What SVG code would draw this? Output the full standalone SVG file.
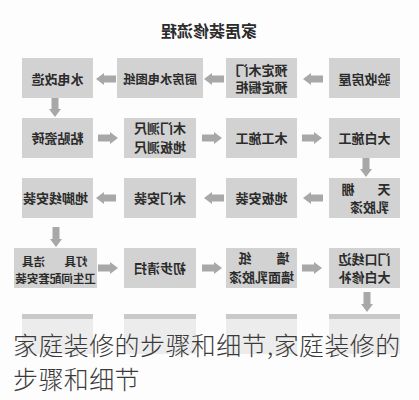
<svg xmlns="http://www.w3.org/2000/svg" width="419" height="400" viewBox="0 0 419 400">
<defs>
<style>
.bx{fill:#d2d2d2}
.fb{fill:#ececec}
.fbt{fill:#c9c9c9}
.t{font-family:"Noto Sans CJK SC","Noto Sans CJK TC",sans-serif;font-weight:bold;font-size:13px;fill:#2b2b2b;text-anchor:middle}
.ts{font-size:11.5px}
.ttl{font-family:"Noto Sans CJK SC",sans-serif;font-weight:bold;font-size:16px;fill:#2b2b2b;text-anchor:middle}
.cap{font-family:"Noto Sans CJK SC","Noto Sans CJK TC",sans-serif;font-weight:300;font-size:25px;fill:#3a3a3a;letter-spacing:0.4px}
.ar{fill:#a8a8a8}
</style>
<path id="arr" class="ar" d="M0,0 L-8,-6 L-8,-3.5 L-20,-3.5 L-20,3.5 L-8,3.5 L-8,6 Z"/>
</defs>
<rect width="419" height="400" fill="#fdfdfd"/>
<g id="title"><text class="ttl" transform="matrix(-1 0 0 1 418 0)" x="209" y="37">家居装修流程</text></g>

<g id="connectors">
<use href="#arr" transform="translate(303,79) rotate(180)"/>
<use href="#arr" transform="translate(204,79) rotate(180)"/>
<use href="#arr" transform="translate(96,79) rotate(180)"/>
<use href="#arr" transform="translate(55,117) rotate(90)"/>
<use href="#arr" transform="translate(118,138)"/>
<use href="#arr" transform="translate(222,138)"/>
<use href="#arr" transform="translate(322,138)"/>
<use href="#arr" transform="translate(366,177) rotate(90)"/>
<use href="#arr" transform="translate(303,198) rotate(180)"/>
<use href="#arr" transform="translate(204,198) rotate(180)"/>
<use href="#arr" transform="translate(96,198) rotate(180)"/>
<use href="#arr" transform="translate(56,247) rotate(90)"/>
<use href="#arr" transform="translate(118,268)"/>
<use href="#arr" transform="translate(222,268)"/>
<use href="#arr" transform="translate(322,268)"/>
<use href="#arr" transform="translate(367,312) rotate(90)"/>
</g>

<g id="n1"><rect class="bx" x="329" y="58" width="71" height="40"/><text class="t" transform="matrix(-1 0 0 1 729 0)" x="364.5" y="84">验收房屋</text></g>
<g id="n2"><rect class="bx" x="226" y="58" width="71" height="40"/><text class="t" transform="matrix(-1 0 0 1 523 0)" x="261.5" y="75">预定木门</text><text class="t" transform="matrix(-1 0 0 1 523 0)" x="261.5" y="92">预定橱柜</text></g>
<g id="n3"><rect class="bx" x="117" y="58" width="86" height="40"/><text class="t" transform="matrix(-1 0 0 1 320 0)" x="160" y="84" style="font-size:12.3px">厨房水电图纸</text></g>
<g id="n4"><rect class="bx" x="22" y="58" width="71" height="40"/><text class="t" transform="matrix(-1 0 0 1 115 0)" x="57.5" y="84">水电改造</text></g>

<g id="n5"><rect class="bx" x="22" y="118" width="71" height="40"/><text class="t" transform="matrix(-1 0 0 1 115 0)" x="57.5" y="143">粘贴瓷砖</text></g>
<g id="n6"><rect class="bx" x="124" y="118" width="72" height="40"/><text class="t" transform="matrix(-1 0 0 1 320 0)" x="160" y="133">木门测尺</text><text class="t" transform="matrix(-1 0 0 1 320 0)" x="160" y="152">地板测尺</text></g>
<g id="n7"><rect class="bx" x="226" y="118" width="71" height="40"/><text class="t" transform="matrix(-1 0 0 1 523 0)" x="261.5" y="143">木工施工</text></g>
<g id="n8"><rect class="bx" x="329" y="118" width="71" height="40"/><text class="t" transform="matrix(-1 0 0 1 729 0)" x="364.5" y="143">大白施工</text></g>

<g id="n9"><rect class="bx" x="329" y="178" width="71" height="40"/><text class="t" transform="matrix(-1 0 0 1 727 0)" x="363.5" y="194" style="letter-spacing:5px">天　棚</text><text class="t" transform="matrix(-1 0 0 1 739 0)" x="369.5" y="212">乳胶漆</text></g>
<g id="n10"><rect class="bx" x="226" y="178" width="71" height="40"/><text class="t" transform="matrix(-1 0 0 1 523 0)" x="261.5" y="203">地板安装</text></g>
<g id="n11"><rect class="bx" x="124" y="178" width="72" height="40"/><text class="t" transform="matrix(-1 0 0 1 320 0)" x="160" y="203">木门安装</text></g>
<g id="n12"><rect class="bx" x="22" y="178" width="71" height="40"/><text class="t" transform="matrix(-1 0 0 1 111 0)" x="55.5" y="203">地脚线安装</text></g>

<g id="n13"><rect class="bx" x="14" y="248" width="83" height="40"/><text class="t ts" transform="matrix(-1 0 0 1 152 0)" x="76" y="266">灯具</text><text class="t ts" transform="matrix(-1 0 0 1 67 0)" x="33.5" y="266">洁具</text><text class="t ts" transform="matrix(-1 0 0 1 111 0)" x="55.5" y="283">卫生间配套安装</text></g>
<g id="n14"><rect class="bx" x="124" y="248" width="72" height="40"/><text class="t" transform="matrix(-1 0 0 1 320 0)" x="160" y="273">初步清扫</text></g>
<g id="n15"><rect class="bx" x="226" y="248" width="71" height="40"/><text class="t" transform="matrix(-1 0 0 1 566 0)" x="283" y="263">墙</text><text class="t" transform="matrix(-1 0 0 1 490 0)" x="245" y="263">纸</text><text class="t" transform="matrix(-1 0 0 1 523 0)" x="261.5" y="282">墙面乳胶漆</text></g>
<g id="n16"><rect class="bx" x="329" y="248" width="71" height="40"/><text class="t" transform="matrix(-1 0 0 1 729 0)" x="364.5" y="264">门口线边</text><text class="t" transform="matrix(-1 0 0 1 729 0)" x="364.5" y="282">大白修补</text></g>

<g id="n17"><rect class="fb" x="22" y="314" width="71" height="40"/><rect class="fbt" x="22" y="314" width="71" height="5"/></g>
<g id="n18"><rect class="fb" x="124" y="314" width="72" height="40"/><rect class="fbt" x="124" y="314" width="72" height="5"/></g>
<g id="n19"><rect class="fb" x="226" y="314" width="71" height="40"/><rect class="fbt" x="226" y="314" width="71" height="5"/></g>
<g id="n20"><rect class="fb" x="329" y="314" width="71" height="40"/><rect class="fbt" x="329" y="314" width="71" height="5"/></g>
<rect x="0" y="354" width="419" height="46" fill="#fdfdfd"/>

<g id="caption">
<text class="cap" x="13" y="355">家庭装修的步骤和细节,家庭装修的</text>
<text class="cap" x="13" y="389">步骤和细节</text>
</g>
</svg>
